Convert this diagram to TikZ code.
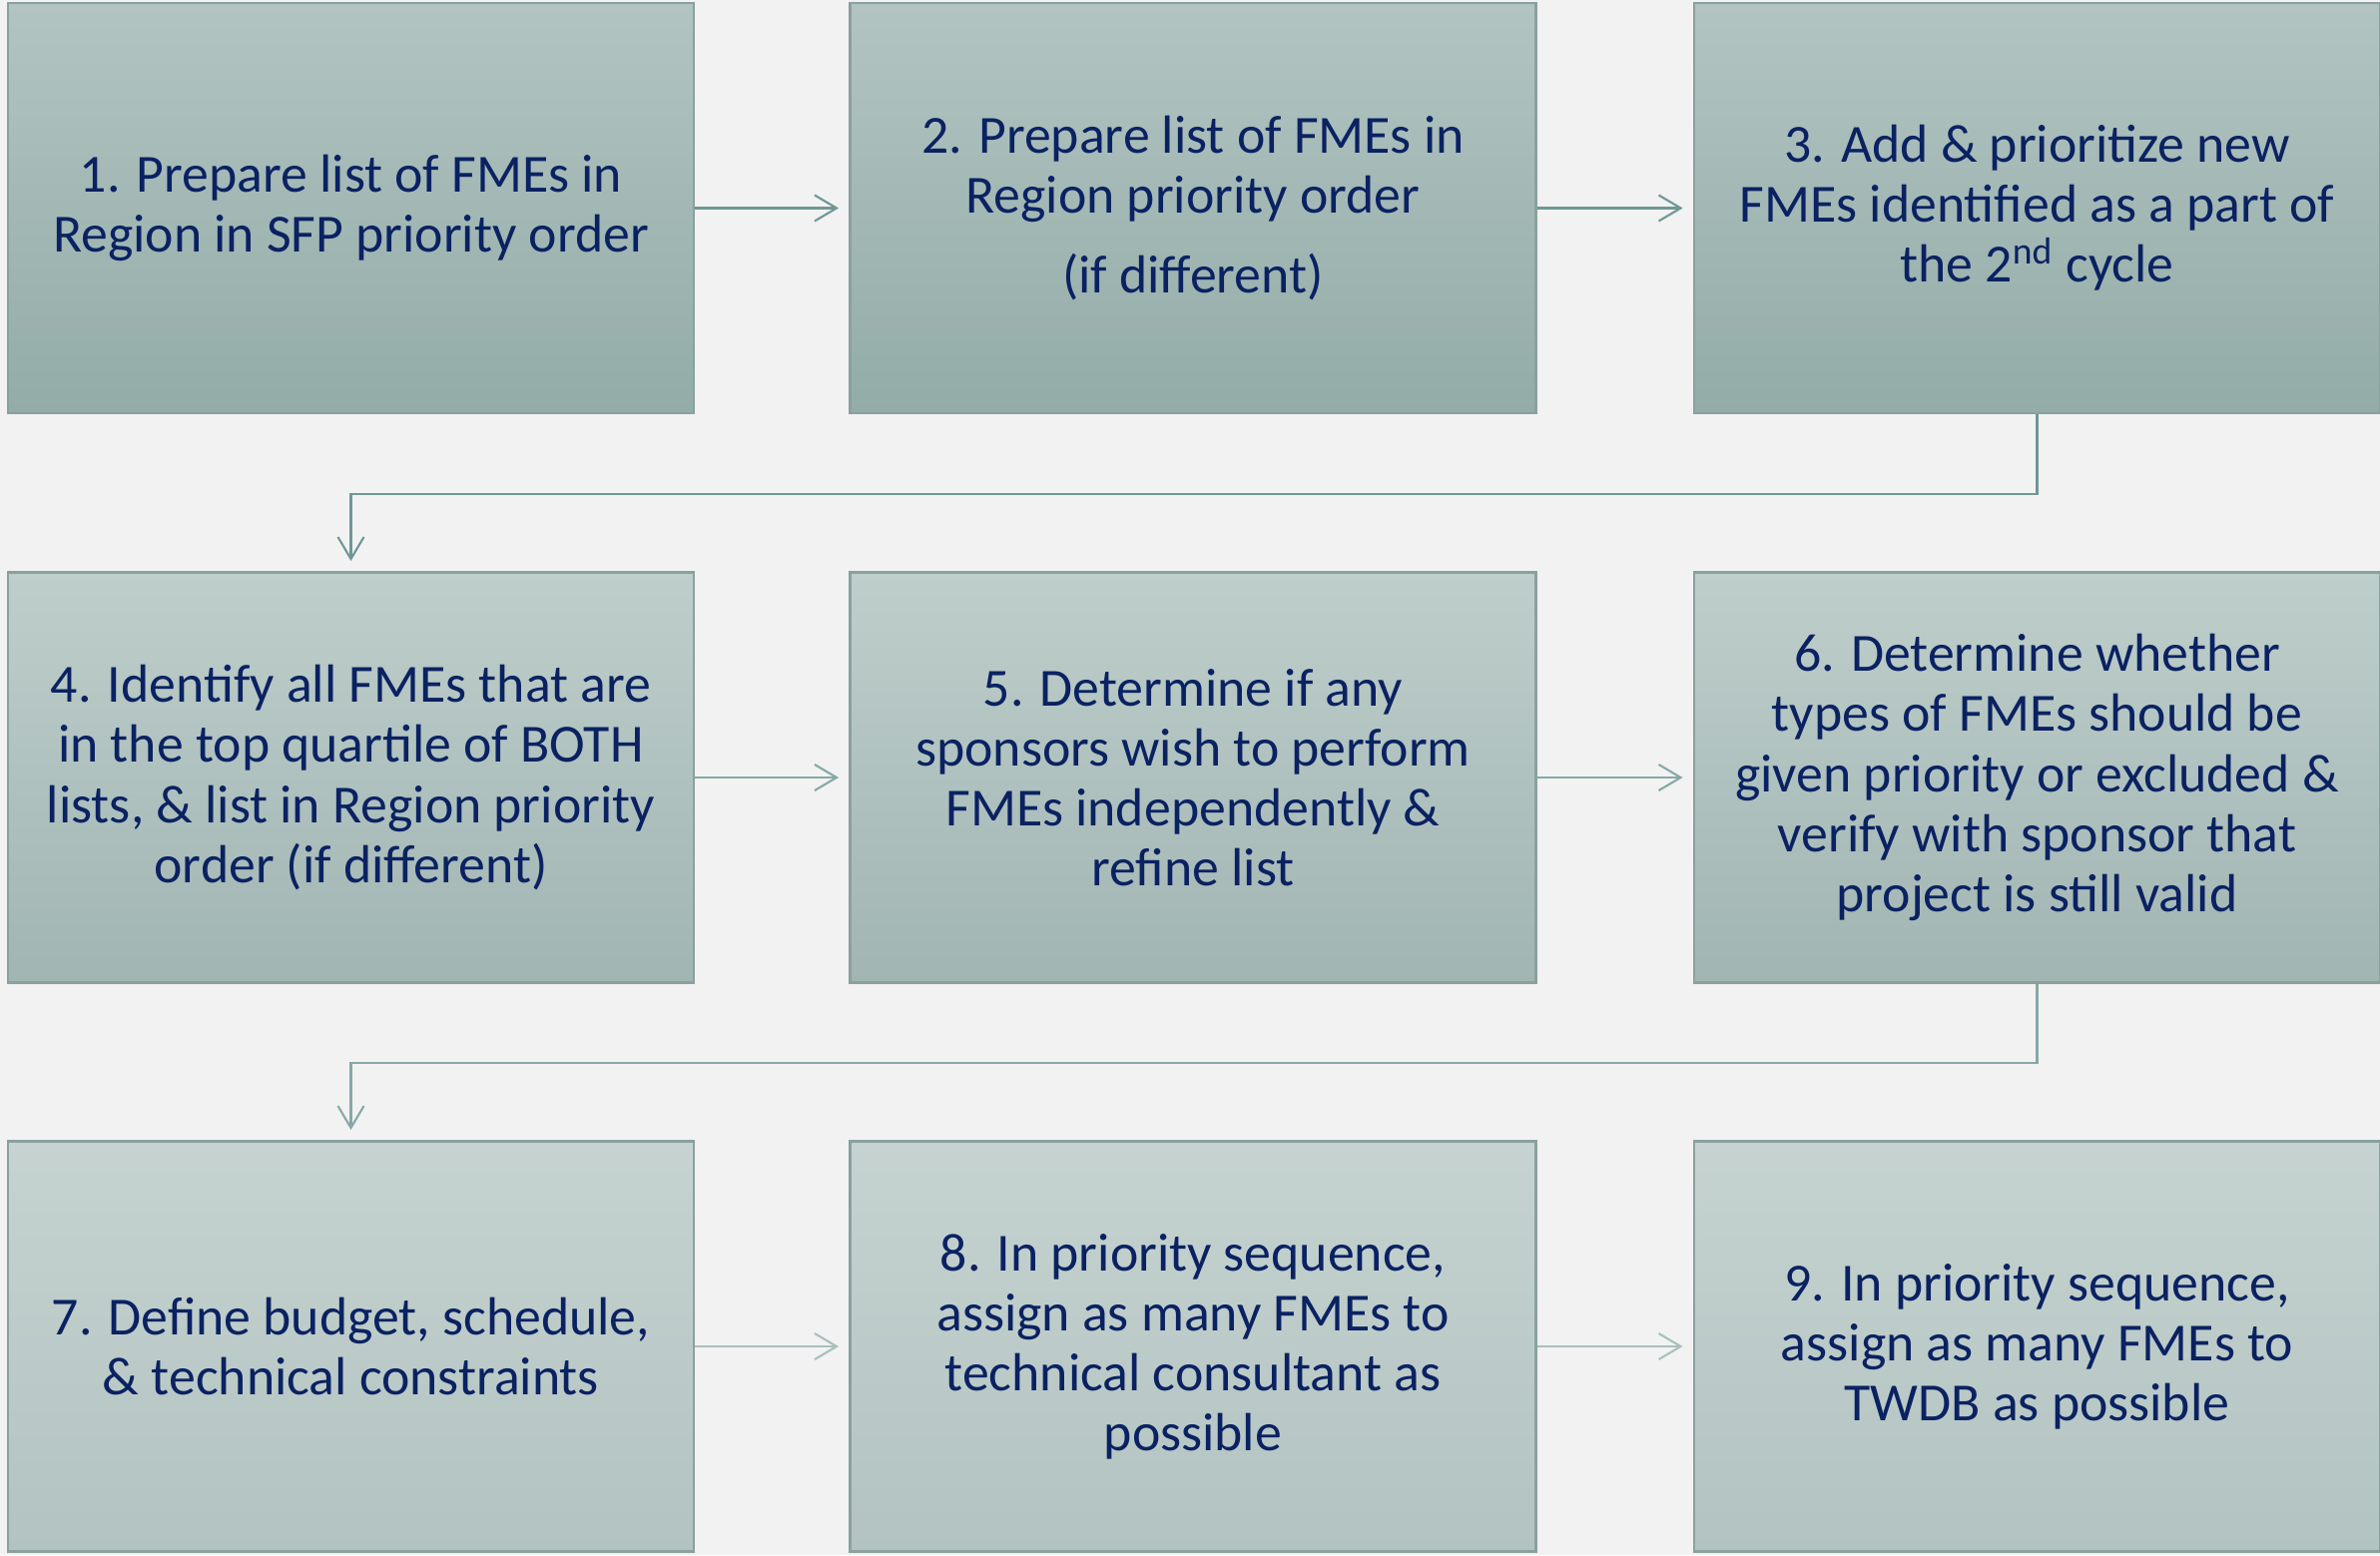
\documentclass[tikz,border=0pt]{standalone}
\usepackage{fontspec}
\setmainfont{Carlito}
\usepackage{xcolor}
\usetikzlibrary{arrows.meta}

\definecolor{bgcol}{HTML}{F2F2F2}
\definecolor{txtcol}{HTML}{0A2262}
\definecolor{edgecol}{HTML}{8AA19E}
\definecolor{arrcola}{HTML}{6E9896}
\definecolor{arrcolb}{HTML}{86A9A7}
\definecolor{arrcolc}{HTML}{A9C0BE}

\begin{document}
\begin{tikzpicture}[
        box/.style={rectangle, draw=edgecol, line width=0.8pt, minimum width=6.87cm, minimum height=4.11cm,
            align=center, text=txtcol, inner sep=0pt, font=\fontsize{15.3}{17.1}\selectfont},
        rowa/.style={box, top color={rgb,255:red,178;green,196;blue,194}, bottom color={rgb,255:red,147;green,172;blue,168}},
        rowb/.style={box, top color={rgb,255:red,190;green,206;blue,203}, bottom color={rgb,255:red,161;green,181;blue,178}},
        rowc/.style={box, top color={rgb,255:red,198;green,211;blue,208}, bottom color={rgb,255:red,178;green,195;blue,193}},
        flow/.style={-{Straight Barb[length=2.2mm,width=2.6mm]}, line width=0.6pt, shorten >=1mm},
    ]
        % Background
        \fill[bgcol] (0,0) rectangle (23.84,-15.58);
        \useasboundingbox (0,0) rectangle (23.84,-15.58);

        % Row 1
        \node[rowa] (s1) at (3.515, -2.085) {1. Prepare list of FMEs in\\Region in SFP priority order};
        \node[rowa] (s2) at (11.95, -2.085) {2. Prepare list of FMEs in\\Region priority order\\[0.2cm](if different)};
        \node[rowa] (s3) at (20.405, -2.085) {3. Add \& prioritize new\\FMEs identified as a part of\\the 2\textsuperscript{nd} cycle};

        % Row 2
        \node[rowb] (s4) at (3.515, -7.79) {4. Identify all FMEs that are\\in the top quartile of BOTH\\lists, \& list in Region priority\\order (if different)};
        \node[rowb] (s5) at (11.95, -7.79) {5. Determine if any\\sponsors wish to perform\\FMEs independently \&\\refine list};
        \node[rowb] (s6) at (20.405, -7.79) {6. Determine whether\\types of FMEs should be\\given priority or excluded \&\\verify with sponsor that\\project is still valid};

        % Row 3
        \node[rowc] (s7) at (3.515, -13.49) {7. Define budget, schedule,\\\& technical constraints};
        \node[rowc] (s8) at (11.95, -13.49) {8. In priority sequence,\\assign as many FMEs to\\technical consultant as\\possible};
        \node[rowc] (s9) at (20.405, -13.49) {9. In priority sequence,\\assign as many FMEs to\\TWDB as possible};

        % Arrows
        \draw[flow, arrcola] (s1) -- (s2);
        \draw[flow, arrcola] (s2) -- (s3);
        \draw[flow, arrcola] (s3.south) -- ++(0,-0.795) -| (s4.north);
        \draw[flow, arrcolb] (s4) -- (s5);
        \draw[flow, arrcolb] (s5) -- (s6);
        \draw[flow, arrcolb] (s6.south) -- ++(0,-0.79) -| (s7.north);
        \draw[flow, arrcolc] (s7) -- (s8);
        \draw[flow, arrcolc] (s8) -- (s9);
    \end{tikzpicture}
\end{document}
